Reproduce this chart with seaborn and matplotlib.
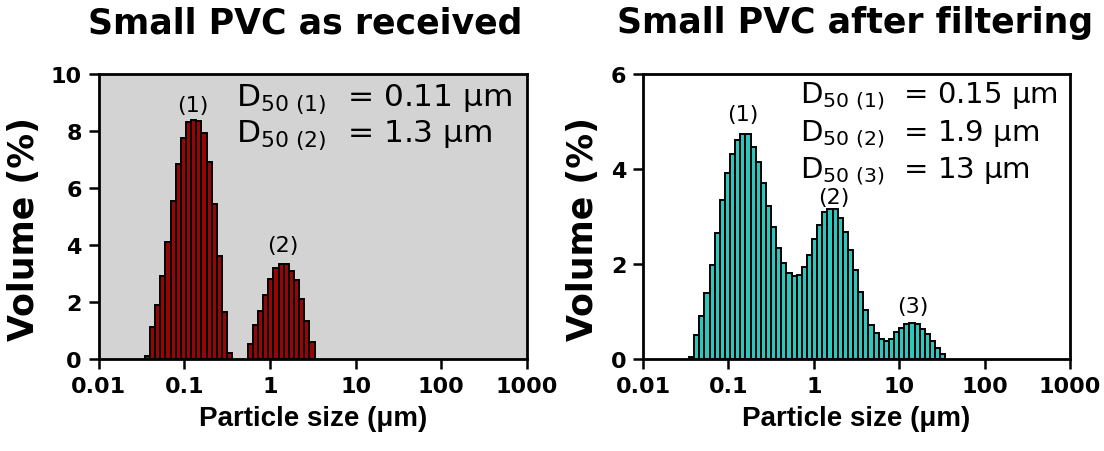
import numpy as np
import matplotlib
matplotlib.use('Agg')
import matplotlib.pyplot as plt
from matplotlib.ticker import NullLocator
import seaborn as sns


### plot style
sns.set_theme(style='ticks')
plt.rcParams['font.family'] = ['DejaVu Sans']
plt.rcParams['mathtext.fontset'] = 'dejavusans'
plt.rcParams['text.color'] = 'black'
plt.rcParams['axes.labelcolor'] = 'black'
plt.rcParams['xtick.color'] = 'black'
plt.rcParams['ytick.color'] = 'black'

##################
### DATA
##################

# size classes of the analyser: 100 log-spaced classes from 0.01 to 10000 um
size_edges = np.logspace(-2, 4, 101)

# small PVC as received, volume % per size class
recv_pop1_first_class = 9
recv_pop1_volume = [0.12, 1.11, 1.91, 2.90, 4.10, 5.54, 6.83, 7.76, 8.32, 8.38,
                    8.36, 7.94, 6.91, 5.45, 3.60, 1.66, 0.20]
recv_pop2_first_class = 29
recv_pop2_volume = [0.53, 1.19, 1.70, 2.25, 2.80, 3.19, 3.35, 3.32, 3.08, 2.76,
                    2.12, 1.32, 0.58]

# small PVC after filtering, volume % per size class
filt_first_class = 9
filt_volume = [0.05, 0.50, 0.91, 1.38, 1.97, 2.66, 3.35, 3.92, 4.32, 4.62,
               4.74, 4.73, 4.46, 4.15, 3.70, 3.22, 2.78, 2.34, 2.02, 1.81,
               1.74, 1.76, 1.94, 2.18, 2.53, 2.82, 3.09, 3.15, 3.15, 2.96,
               2.68, 2.30, 1.88, 1.41, 1.03, 0.72, 0.55, 0.43, 0.38, 0.43,
               0.56, 0.66, 0.73, 0.76, 0.73, 0.64, 0.52, 0.38, 0.24, 0.10]

x_ticks = [0.01, 0.1, 1, 10, 100, 1000]
x_tick_labels = ['0.01', '0.1', '1', '10', '100', '1000']

recv_d50_lines = [r'D$_{50\ (1)}$  = 0.11 μm', r'D$_{50\ (2)}$  = 1.3 μm']
filt_d50_lines = [r'D$_{50\ (1)}$  = 0.15 μm', r'D$_{50\ (2)}$  = 1.9 μm',
                  r'D$_{50\ (3)}$  = 13 μm']

# peak labels: (text, size um, volume %)
recv_peaks = [('(1)', 0.125, 8.9), ('(2)', 1.43, 4.0)]
filt_peaks = [('(1)', 0.149, 5.16), ('(2)', 1.72, 3.42), ('(3)', 14.4, 1.11)]


############################
### PLOTTER FUNCS
############################

def size_class_hist(ax, first_class, volume, color):
    '''
    draw volume % per size class as a log-binned seaborn histogram
    '''
    n = len(volume)
    lo = size_edges[first_class]
    hi = size_edges[first_class + n]
    centers = np.sqrt(size_edges[first_class:first_class + n] *
                      size_edges[first_class + 1:first_class + n + 1])
    sns.histplot(x=centers, weights=volume, bins=n,
                 binrange=(np.log10(lo), np.log10(hi)), log_scale=True,
                 stat='count', color=color, edgecolor='black', linewidth=1.4,
                 alpha=1, ax=ax)


def style_axes(ax, title, title_x, y_max, ylabel_x):
    ax.set_xscale('log')
    ax.set_xlim(0.01, 1000)
    ax.set_ylim(0, y_max)
    ax.set_xticks(x_ticks, labels=x_tick_labels, fontsize=16, fontweight='bold')
    y_ticks = list(range(0, y_max + 1, 2))
    ax.set_yticks(y_ticks, labels=[str(t) for t in y_ticks], fontsize=16,
                  fontweight='bold')
    ax.xaxis.set_minor_locator(NullLocator())
    ax.tick_params(axis='both', length=7, width=1.8, color='black', pad=5)
    for side in ['left', 'right', 'top', 'bottom']:
        ax.spines[side].set_visible(True)
        ax.spines[side].set_linewidth(2.0)
        ax.spines[side].set_color('black')
    ax.set_title(title, fontsize=25, fontweight='bold', pad=30, x=title_x)
    ax.set_xlabel('Particle size (μm)', fontsize=20, fontweight='bold',
                  family=['Liberation Sans', 'DejaVu Sans'], labelpad=7)
    ax.set_ylabel('Volume (%)', fontsize=25, fontweight='bold')
    ax.yaxis.set_label_coords(ylabel_x, 0.46)


fig = plt.figure(figsize=(11.04, 4.52), dpi=100)
ax_recv = fig.add_axes([0.0893, 0.2035, 0.3881, 0.6305])
ax_filt = fig.add_axes([0.5824, 0.2035, 0.3868, 0.6305])

# as received
ax_recv.set_facecolor('#d3d3d3')
size_class_hist(ax_recv, recv_pop1_first_class, recv_pop1_volume, '#950707')
size_class_hist(ax_recv, recv_pop2_first_class, recv_pop2_volume, '#950707')
style_axes(ax_recv, 'Small PVC as received', 0.483, 10, -0.135)
for i, line in enumerate(recv_d50_lines):
    ax_recv.text(0.32, 0.889 - i * 0.128, line, transform=ax_recv.transAxes,
                 fontsize=22.5, va='baseline', ha='left')
for label, x, y in recv_peaks:
    ax_recv.text(x, y, label, fontsize=16, ha='center', va='center')

# after filtering
ax_filt.set_facecolor('white')
size_class_hist(ax_filt, filt_first_class, filt_volume, '#2cc6bc')
style_axes(ax_filt, 'Small PVC after filtering', 0.496, 6, -0.10)
for i, line in enumerate(filt_d50_lines):
    ax_filt.text(0.367, 0.902 - i * 0.132, line, transform=ax_filt.transAxes,
                 fontsize=21, va='baseline', ha='left')
for label, x, y in filt_peaks:
    ax_filt.text(x, y, label, fontsize=16, ha='center', va='center')

fig.savefig('out.png', dpi=100)
